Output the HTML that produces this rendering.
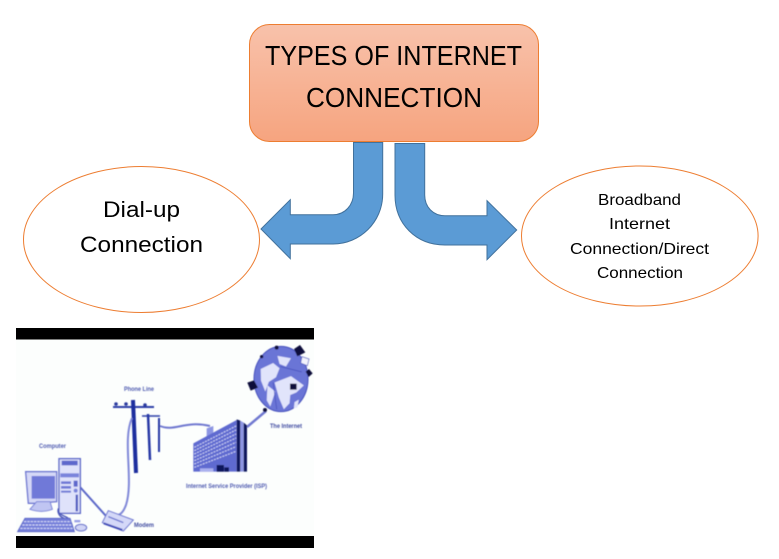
<!DOCTYPE html>
<html>
<head>
<meta charset="utf-8">
<style>
html,body{margin:0;padding:0;background:#fff;width:779px;height:559px;overflow:hidden}
svg{display:block}
text{font-family:"Liberation Sans",sans-serif}
</style>
</head>
<body>
<svg width="779" height="559" viewBox="0 0 779 559" xmlns="http://www.w3.org/2000/svg">
<defs>
<linearGradient id="g" x1="0" y1="0" x2="0" y2="1">
<stop offset="0" stop-color="#f8c2ab"/>
<stop offset="1" stop-color="#f6a47f"/>
</linearGradient>
<filter id="b" x="-5%" y="-5%" width="110%" height="110%"><feGaussianBlur stdDeviation="0.5"/></filter>
</defs>

<rect x="249.5" y="24.5" width="289" height="117" rx="20" fill="url(#g)" stroke="#ed7d31"/>
<text x="265" y="65" font-size="28" textLength="257" lengthAdjust="spacingAndGlyphs" fill="#000">TYPES OF INTERNET</text>
<text x="306" y="107" font-size="28" textLength="176" lengthAdjust="spacingAndGlyphs" fill="#000">CONNECTION</text>

<path d="M353.5 142.500 H382.700 V194 C382.700 222 360 244 333 244 H290.300 V258.700 L261 229 L290.300 199.700 V214.700 H333 C345 214.700 353.500 205 353.500 193 Z" fill="#5b9bd5" stroke="#41719c"/>
<path d="M395 143.500 H424.700 V195 C424.700 207 433 215.700 445 215.700 H487 V200.700 L516.700 230 L487 259.700 V245 H445 C416 245 395 224 395 195 Z" fill="#5b9bd5" stroke="#41719c"/>

<ellipse cx="141.500" cy="239.500" rx="118" ry="73" fill="#fff" stroke="#ed7d31"/>
<text x="103" y="217" font-size="22" textLength="77" lengthAdjust="spacingAndGlyphs" fill="#000">Dial-up</text>
<text x="80" y="252" font-size="22" textLength="123" lengthAdjust="spacingAndGlyphs" fill="#000">Connection</text>

<ellipse cx="639.800" cy="236" rx="118.300" ry="70" fill="#fff" stroke="#ed7d31"/>
<text x="598" y="205" font-size="16" textLength="83" lengthAdjust="spacingAndGlyphs" fill="#000">Broadband</text>
<text x="609" y="229" font-size="16" textLength="61" lengthAdjust="spacingAndGlyphs" fill="#000">Internet</text>
<text x="570" y="254" font-size="16" textLength="139" lengthAdjust="spacingAndGlyphs" fill="#000">Connection/Direct</text>
<text x="597" y="278" font-size="16" textLength="86" lengthAdjust="spacingAndGlyphs" fill="#000">Connection</text>

<!-- picture -->
<rect x="16" y="328" width="298" height="220" fill="#fcfefd"/>
<g filter="url(#b)">
<!-- poles -->
<path d="M113 407 H154" stroke="#2f3fa8" stroke-width="2"/>
<path d="M133 400 L136 473" stroke="#1f2f9e" stroke-width="4"/>
<path d="M142 416 H160" stroke="#2f3fa8" stroke-width="1.500"/>
<path d="M148 414 L150 460" stroke="#2638a5" stroke-width="2.500"/>
<path d="M159 418 V452" stroke="#2638a5" stroke-width="2"/>
<circle cx="116" cy="404" r="1.800" fill="#2a3a9e"/><circle cx="126" cy="404" r="1.800" fill="#2a3a9e"/><circle cx="145" cy="405" r="1.800" fill="#2a3a9e"/>
<!-- wires -->
<path d="M132 418 C122 440 134 480 126 505 C123 513 120 515 115 516" fill="none" stroke="#8088d8" stroke-width="2"/>
<path d="M80 487 L106 516" stroke="#5a66c8" stroke-width="2"/>
<path d="M160 426 C175 432 185 420 210 426" fill="none" stroke="#7078d0" stroke-width="2"/>
<path d="M247 427 L266 411" stroke="#7078d0" stroke-width="2.500"/>
<path d="M58 510 C58 520 70 518 72 525" fill="none" stroke="#4a56b8" stroke-width="1.500"/>

<!-- computer group, zoom coordinates origin 15,450 -->
<g transform="translate(15 450) scale(.3333)">
<path d="M32 65 H125 V155 L60 160 H40 Z" fill="#d5d8f7" stroke="#6a74d0" stroke-width="4"/>
<rect x="50" y="78" width="70" height="68" fill="#6f79d8"/>
<path d="M65 155 H105 L112 178 Q80 190 45 178 Z" fill="#c0c5f2" stroke="#7a84d8" stroke-width="3"/>
<rect x="132" y="26" width="64" height="164" fill="#dfe2fa" stroke="#5a66c8" stroke-width="4"/>
<rect x="140" y="32" width="48" height="14" fill="#5d68cc"/>
<rect x="136" y="70" width="56" height="12" fill="#7a84dc"/>
<rect x="138" y="94" width="30" height="8" fill="#6f79d6"/><rect x="138" y="108" width="30" height="8" fill="#6f79d6"/><rect x="138" y="122" width="30" height="6" fill="#6f79d6"/>
<rect x="176" y="92" width="12" height="18" fill="#5d68cc"/><circle cx="182" cy="122" r="6" fill="#7a84dc"/>
<rect x="182" y="134" width="7" height="50" fill="#4f5cc0"/>
<path d="M130 175 C125 200 160 195 165 212" fill="none" stroke="#4a56b8" stroke-width="4"/>
<path d="M30 205 H165 L178 245 H8 Z" fill="#7680da" stroke="#5a66c8" stroke-width="3"/>
<path d="M27 215 H168 M22 225 H172 M16 235 H175" stroke="#dfe2fa" stroke-width="3" stroke-dasharray="7 3"/>
<ellipse cx="198" cy="233" rx="17" ry="10" fill="#d0d4f6" stroke="#5a66c8" stroke-width="3"/>
<rect x="178" y="210" width="18" height="7" fill="#9aa2e6"/>
<path d="M280 182 L355 210 L325 243 L262 218 Z" fill="#d4d8f8" stroke="#6a74d0" stroke-width="3"/>
<path d="M266 220 L322 240" stroke="#3f4cb8" stroke-width="6"/>
<path d="M280 200 L325 218" stroke="#6a74d0" stroke-width="4"/>
</g>

<!-- ISP, zoom coordinates origin 185,410 -->
<g transform="translate(185 410) scale(.3333)">
<path d="M65 55 L85 48 V90 L65 98 Z" fill="#8c95e3"/>
<path d="M25 100 L155 30 V185 H25 Z" fill="#5f6ad0"/>
<g stroke="#d2d6f7" stroke-width="3" stroke-dasharray="6 3">
<path d="M28 112 L153 48 M28 122 L153 60 M28 132 L153 72 M28 142 L153 84 M28 152 L153 97 M28 162 L153 110 M28 172 L153 124"/>
</g>
<path d="M155 28 L166 32 V185 H155 Z" fill="#10185c"/>
<path d="M166 32 L176 38 V185 H166 Z" fill="#8c95e3"/>
<path d="M176 38 L186 46 V185 H176 Z" fill="#10185c"/>
<rect x="95" y="165" width="22" height="20" fill="#10185c"/>
<rect x="118" y="172" width="14" height="13" fill="#10185c"/>
<rect x="45" y="175" width="40" height="10" fill="#aab0ee"/>
</g>

<!-- globe, zoom coordinates origin 240,335 -->
<g transform="translate(240 335) scale(.3333)">
<ellipse cx="123" cy="132" rx="81" ry="98" fill="#6a74d6" stroke="#4450bc" stroke-width="3"/>
<g transform="translate(123 132) scale(1.07) translate(-122 -130)">
<path d="M65 102 L100 85 L118 100 L108 125 L88 138 L78 165 L66 135 Z" fill="#e1e4fb"/>
<path d="M84 148 L106 165 L92 207 L82 190 Z" fill="#e1e4fb"/>
<path d="M104 140 L150 122 L186 148 L165 168 L148 175 L146 198 L130 215 L116 182 Z" fill="#e1e4fb"/>
<path d="M112 65 L150 72 L136 95 L118 88 Z" fill="#e1e4fb"/>
<path d="M160 195 L172 188 L168 210 L158 212 Z" fill="#e1e4fb"/>
<path d="M120 95 L180 110 M100 140 L110 215" stroke="#4450bc" stroke-width="2" fill="none"/>
</g>
<path d="M162 42 L180 30 L196 52 L172 64 Z" fill="#10103a"/>
<path d="M186 65 L207 72 L202 92 L182 84 Z" fill="#f2f3fd" stroke="#4450bc" stroke-width="2"/>
<path d="M197 110 L207 102 L218 115 L206 126 Z" fill="#10103a"/>
<path d="M22 143 L42 136 L54 158 L32 167 Z" fill="#10103a"/>
<rect x="150" y="146" width="20" height="18" fill="#10103a"/>
<circle cx="110" cy="38" r="6" fill="#10103a"/><circle cx="65" cy="65" r="5" fill="#10103a"/><circle cx="75" cy="225" r="6" fill="#10103a"/>
</g>

<!-- labels -->
<text x="124" y="391" font-size="6.500" font-weight="bold" fill="#4f5bb0" textLength="30" lengthAdjust="spacingAndGlyphs">Phone Line</text>
<text x="39" y="448" font-size="6.500" font-weight="bold" fill="#4f5bb0" textLength="27" lengthAdjust="spacingAndGlyphs">Computer</text>
<text x="134" y="527" font-size="6.500" font-weight="bold" fill="#3f4ba0" textLength="20" lengthAdjust="spacingAndGlyphs">Modem</text>
<text x="186" y="488" font-size="6.500" font-weight="bold" fill="#4f5bb0" textLength="81" lengthAdjust="spacingAndGlyphs">Internet Service Provider (ISP)</text>
<text x="270" y="428" font-size="6.500" font-weight="bold" fill="#3f4ba0" textLength="32" lengthAdjust="spacingAndGlyphs">The Internet</text>
</g>
<rect x="16" y="328" width="298" height="11.500" fill="#000"/>
<rect x="16" y="536" width="298" height="12" fill="#000"/>
</svg>
</body>
</html>
